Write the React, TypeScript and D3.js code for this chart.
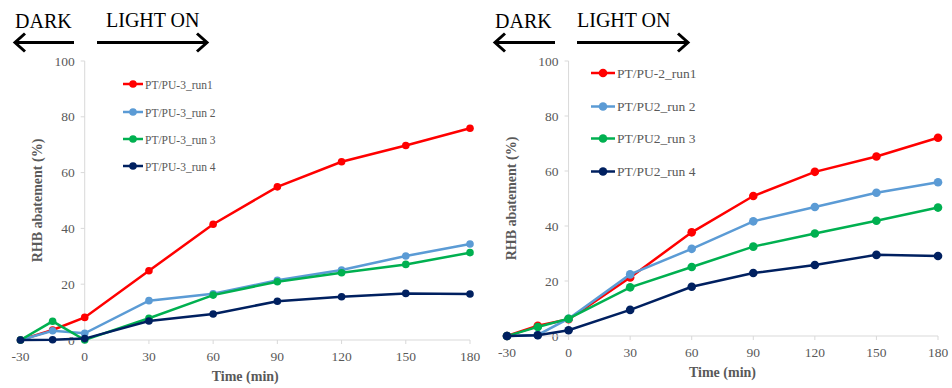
import React from 'react';
import * as d3 from 'd3';

const times = [-30, -15, 0, 30, 60, 90, 120, 150, 180];
const xTicks = [-30, 0, 30, 60, 90, 120, 150, 180];
const yTicks = [0, 20, 40, 60, 80, 100];

const pu3Names = ['PT/PU-3_run1', 'PT/PU-3_run 2', 'PT/PU-3_run 3', 'PT/PU-3_run 4'];
const pu3Run1 = [0, 3.6, 8.1, 24.8, 41.5, 54.9, 63.9, 69.7, 75.9];
const pu3Run2 = [0, 3.3, 2.4, 14.1, 16.6, 21.4, 25.1, 30.1, 34.4];
const pu3Run3 = [0, 6.7, 0, 7.8, 16.1, 20.9, 24.1, 27.1, 31.3];
const pu3Run4 = [0, 0.1, 0.5, 6.8, 9.3, 13.9, 15.5, 16.7, 16.5];

const pu2Names = ['PT/PU-2_run1', 'PT/PU2_run 2', 'PT/PU2_run 3', 'PT/PU2_run 4'];
const pu2Run1 = [0, 3.7, 6.1, 21.3, 37.7, 50.9, 59.7, 65.3, 72.1];
const pu2Run2 = [0, 0.4, 6.3, 22.4, 31.7, 41.7, 46.9, 52.1, 55.9];
const pu2Run3 = [0, 3.3, 6.3, 17.7, 25.1, 32.5, 37.3, 41.9, 46.7];
const pu2Run4 = [0, 0.3, 2.1, 9.5, 17.9, 22.9, 25.8, 29.5, 29.1];

const colors = ['#ff0000', '#5b9bd5', '#00b050', '#002060'];
const FONT = '"Liberation Serif", "Times New Roman", serif';
const GREY = '#595959';

type Panel = {
  names: string[];
  series: number[][];
  x0: number; x1: number; y0: number; y1: number;
  legendX: number; legendY: number[]; legendFont: number; legendLine: number;
  titleX: number;
  darkX: [number, number]; lightX: [number, number]; lightTextX: number;
  r: number;
};

const panels: Panel[] = [
  {
    names: pu3Names, series: [pu3Run1, pu3Run2, pu3Run3, pu3Run4],
    x0: 20.5, x1: 470, y0: 340, y1: 61,
    legendX: 123, legendY: [84, 112, 139, 166], legendFont: 11.5, legendLine: 20,
    titleX: 42,
    darkX: [15, 74], lightX: [97, 207], lightTextX: 106,
    r: 3.8,
  },
  {
    names: pu2Names, series: [pu2Run1, pu2Run2, pu2Run3, pu2Run4],
    x0: 507, x1: 938, y0: 336, y1: 61,
    legendX: 591, legendY: [73, 106.5, 138.5, 171.5], legendFont: 13.5, legendLine: 24,
    titleX: 516,
    darkX: [495, 555], lightX: [577, 688], lightTextX: 577,
    r: 4.3,
  },
];

function Arrow({ xa, xb, y, dir }: { xa: number; xb: number; y: number; dir: 'l' | 'r' }) {
  const tip = dir === 'l' ? xa : xb;
  const back = dir === 'l' ? tip + 10 : tip - 10;
  return (
    <g stroke="#000" strokeWidth={3} fill="none">
      <line x1={xa} x2={xb} y1={y} y2={y} />
      <polyline points={`${back},${y - 9} ${tip},${y} ${back},${y + 9}`} />
    </g>
  );
}

function Chart({ p }: { p: Panel }) {
  const x = d3.scaleLinear().domain([-30, 180]).range([p.x0, p.x1]);
  const y = d3.scaleLinear().domain([0, 100]).range([p.y0, p.y1]);
  const line = d3.line<number>().x((_, i) => x(times[i])).y(d => y(d));
  const ax = x(0);
  return (
    <g>
      <text x={p.darkX[0]} y={28} fontFamily={FONT} fontSize={20}>DARK</text>
      <text x={p.lightTextX} y={27} fontFamily={FONT} fontSize={20}>LIGHT ON</text>
      <Arrow xa={p.darkX[0]} xb={p.darkX[1]} y={42.5} dir="l" />
      <Arrow xa={p.lightX[0]} xb={p.lightX[1]} y={42.5} dir="r" />

      <line x1={ax} x2={ax} y1={y(100)} y2={y(0)} stroke="#d9d9d9" strokeWidth={1} />
      {yTicks.map(t => (
        <g key={t}>
          <line x1={ax - 4} x2={ax} y1={y(t)} y2={y(t)} stroke="#d9d9d9" />
          <text x={ax - 10} y={y(t) + 4.5} textAnchor="end" fontFamily={FONT} fontSize={13.5} fill={GREY}>{t}</text>
        </g>
      ))}
      <line x1={x(-30)} x2={x(180)} y1={y(0)} y2={y(0)} stroke="#d9d9d9" />
      {xTicks.map(t => (
        <g key={t}>
          <line x1={x(t)} x2={x(t)} y1={y(0)} y2={y(0) + 4} stroke="#d9d9d9" />
          <text x={x(t)} y={y(0) + 21} textAnchor="middle" fontFamily={FONT} fontSize={13.5} fill={GREY}>{t}</text>
        </g>
      ))}
      <text x={(p.x0 + p.x1) / 2} y={y(0) + 41} textAnchor="middle" fontFamily={FONT} fontSize={14} fontWeight="bold" fill={GREY}>Time (min)</text>
      <text transform={`translate(${p.titleX},${(y(0) + y(100)) / 2}) rotate(-90)`} textAnchor="middle" fontFamily={FONT} fontSize={14} fontWeight="bold" fill={GREY}>RHB abatement (%)</text>

      {p.series.map((s, k) => (
        <g key={k}>
          <path d={line(s) ?? ''} fill="none" stroke={colors[k]} strokeWidth={2.5} />
          {s.map((v, i) => (
            <circle key={i} cx={x(times[i])} cy={y(v)} r={p.r} fill={colors[k]} />
          ))}
        </g>
      ))}

      {p.names.map((n, k) => (
        <g key={n}>
          <line x1={p.legendX} x2={p.legendX + p.legendLine} y1={p.legendY[k]} y2={p.legendY[k]} stroke={colors[k]} strokeWidth={2.5} />
          <circle cx={p.legendX + p.legendLine / 2} cy={p.legendY[k]} r={p.r} fill={colors[k]} />
          <text x={p.legendX + p.legendLine + 2} y={p.legendY[k] + 4.5} fontFamily={FONT} fontSize={p.legendFont} fill={GREY}>{n}</text>
        </g>
      ))}
    </g>
  );
}

export default function App() {
  return (
    <svg width={952} height={388} style={{ position: 'absolute', left: 0, top: 0, background: '#fff' }}>
      {panels.map((p, i) => <Chart key={i} p={p} />)}
    </svg>
  );
}
